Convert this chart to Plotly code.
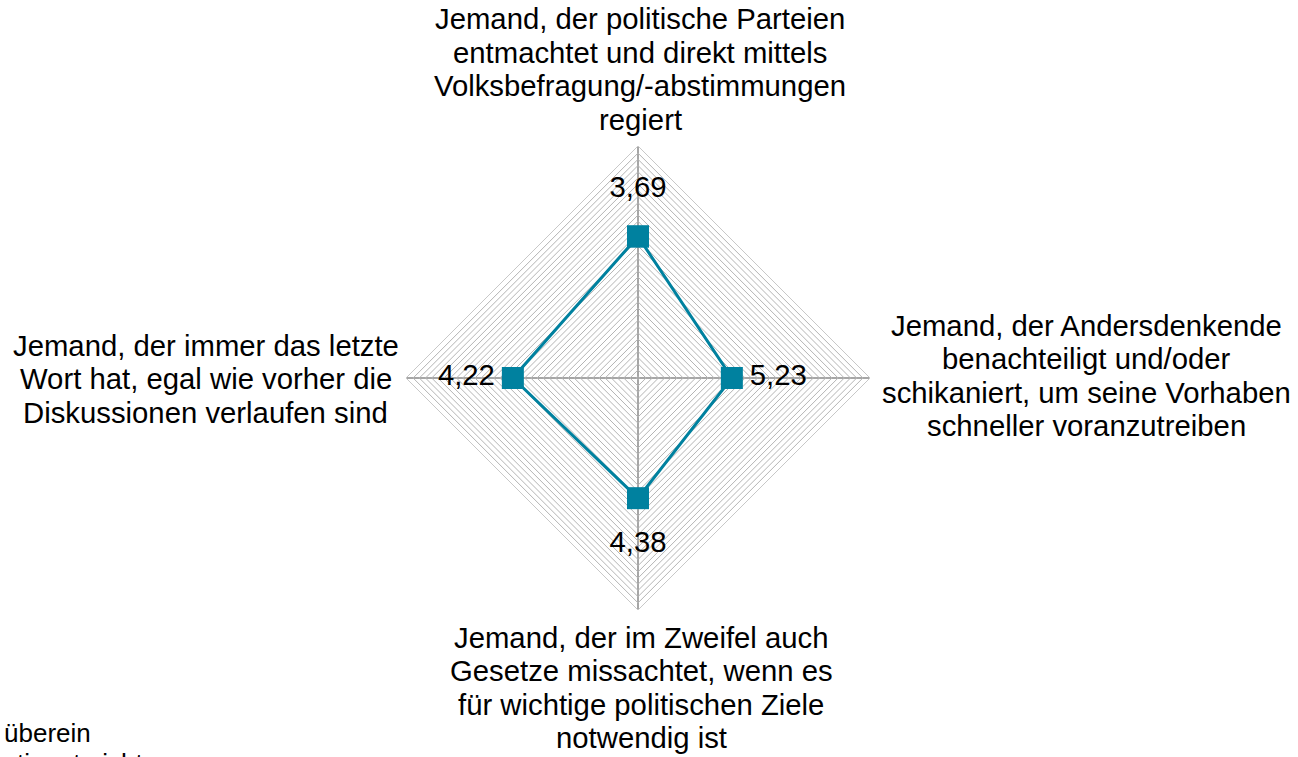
import plotly.graph_objects as go

# ---- data ----
categories = [
    "Jemand, der politische Parteien entmachtet und direkt mittels Volksbefragung/-abstimmungen regiert",
    "Jemand, der Andersdenkende benachteiligt und/oder schikaniert, um seine Vorhaben schneller voranzutreiben",
    "Jemand, der im Zweifel auch Gesetze missachtet, wenn es für wichtige politischen Ziele notwendig ist",
    "Jemand, der immer das letzte Wort hat, egal wie vorher die Diskussionen verlaufen sind",
]
values = [3.69, 5.23, 4.38, 4.22]

label_lines = [
    ["Jemand, der politische Parteien", "entmachtet und direkt mittels", "Volksbefragung/-abstimmungen", "regiert"],
    ["Jemand, der Andersdenkende", "benachteiligt und/oder", "schikaniert, um seine Vorhaben", "schneller voranzutreiben"],
    ["Jemand, der im Zweifel auch", "Gesetze missachtet, wenn es", "für wichtige politischen Ziele", "notwendig ist"],
    ["Jemand, der immer das letzte", "Wort hat, egal wie vorher die", "Diskussionen verlaufen sind"],
]
legend_fragments = ["überein", "stimmt nicht"]

# ---- style / layout ----
W, H = 1298, 757
FONT = "Liberation Sans, Arial, sans-serif"
FS = 29.3
COLOR = "#00819F"
CX, CY, R = 638, 378, 232
LABEL_SHIFT = 1.5
LINE_H = 33.5
# first-line centre (px) of each category label block
block_pos = [(640, 18.7), (1086, 325), (641, 637), (206, 345)]

fig = go.Figure()
fig.add_trace(go.Scatterpolar(
    r=values + [values[0]],
    theta=categories + [categories[0]],
    mode="lines+markers",
    line=dict(color=COLOR, width=3),
    marker=dict(symbol="square", size=22, color=COLOR),
    hoverinfo="skip",
    showlegend=False,
))
fig.add_trace(go.Scatterpolar(
    r=[v - LABEL_SHIFT for v in values],
    theta=categories,
    mode="text",
    text=[f"{v:.2f}".replace(".", ",") for v in values],
    textposition="middle center",
    textfont=dict(size=FS, color="black", family=FONT),
    hoverinfo="skip",
    showlegend=False,
))

annotations = []
for (px, py), lines in zip(block_pos, label_lines):
    for i, ln in enumerate(lines):
        annotations.append(dict(
            text=ln, x=px / W, y=1 - (py + i * LINE_H) / H,
            xref="paper", yref="paper", xanchor="center", yanchor="middle",
            showarrow=False, font=dict(size=FS, color="black", family=FONT),
        ))
for i, t in enumerate(legend_fragments):
    annotations.append(dict(
        text=t, x=2 / W, y=1 - (733 + i * 30) / H,
        xref="paper", yref="paper", xanchor="left", yanchor="middle",
        showarrow=False, font=dict(size=26, color="black", family=FONT),
    ))

fig.update_layout(
    width=W, height=H,
    margin=dict(l=0, r=0, t=0, b=0),
    paper_bgcolor="white",
    plot_bgcolor="white",
    showlegend=False,
    annotations=annotations,
    polar=dict(
        domain=dict(x=[(CX - R) / W, (CX + R) / W], y=[(H - CY - R) / H, (H - CY + R) / H]),
        bgcolor="white",
        gridshape="linear",
        radialaxis=dict(
            range=[8.26, 0.77], tick0=0, dtick=0.2,
            showticklabels=False, ticks="", showline=False,
            gridcolor="#B4B4B4", gridwidth=1,
        ),
        angularaxis=dict(
            rotation=90, direction="clockwise",
            showticklabels=False, ticks="",
            gridcolor="#A6A6A6", gridwidth=2,
            showline=True, linecolor="#C8C8C8", linewidth=1,
        ),
    ),
)

fig.write_html("out.html", config={"displayModeBar": False})

# remove the default page margin so the figure sits at the window's top-left corner
with open("out.html", encoding="utf-8") as f:
    html = f.read()
html = html.replace("<head>", "<head><style>html,body{margin:0;padding:0;overflow:hidden;}</style>", 1)
with open("out.html", "w", encoding="utf-8") as f:
    f.write(html)
